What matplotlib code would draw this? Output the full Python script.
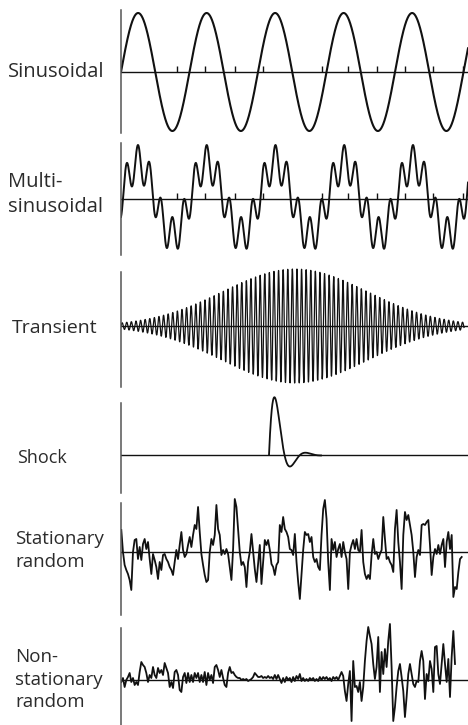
import numpy as np
import matplotlib.pyplot as plt

# ---- values (time and amplitude in pixel-like units) ----
labels = [["Sinusoidal"], ["Multi-", "sinusoidal"], ["Transient"], ["Shock"],
          ["Stationary", "random"], ["Non-", "stationary", "random"]]

sine_amp = 59
sine_period = 68.5

multi_period = 68.75
multi_amps = [36, 18]
multi_orders = [1, 6]
multi_phases = [0.0, -1.45]

tick_pos = [56, 84, 114, 142, 201, 227, 256, 284, 312, 342]

transient_amp = 57
transient_center = 174
transient_width = 72
transient_period = 4.6

shock_start = 148
shock_end = 200
shock_amp = 114
shock_decay = 0.104
shock_half_period = 15.5

stationary = [22, 0, -13, -18, -22, -28, -38, 0, 12, 13,
              -7, 5, -8, 8, 13, 3, 10, -7, -22, -2,
              -8, -15, -27, -10, -18, -3, -2, -7, -10, -15,
              -18, -23, -10, 2, -7, 7, 20, 2, -5, -2,
              7, 15, 5, 17, 27, 23, 45, 20, -2, -13,
              -23, -30, -28, 0, 13, 7, 17, 47, 23, 17,
              -3, 2, -2, 3, -2, -15, -28, 3,
              53, 45, 23, 0, -13, -10, -15, -35, -10, 0,
              18, 0, -17, -30, -12, 7, -32, -10, 12, 7,
              12, 2, -12, -15, -23, -13, -10, 27, 20, 35,
              23, 20, 15, 3, 2, -3, 18, -10, -30, -47,
              -23, 2, 20, 17, 18, 10, 15, -5, -10, -7,
              -15, -18, 17, 43, 52, 33, -10, -38, 13, 2,
              10, -5, 3, 8, -5, 10, 0, -7, -37, 0,
              7, 12, 3, 13, 2, 0, 22, -10, -22, -27,
              -23, -27, -3, 13, -2, 0, -7, -2, 2, 35,
              13, -7, -5, -10, -13, -20, 23, 42, 10, -10,
              -37, 17, 40, 32, 37, 27, 17, 0, -25, -5,
              2, -3, 27, 28, 27, 30, 32, 7, -23, -5,
              3, -2, 7, -2, 7, 13, -15, 10, 20, 3,
              17, -45, -35, -37, -20, -7, -5]
stationary_span = (0.3, 340.7)

nonstationary = [-2, 2, -7, 0, 3, 7, -2, 2, -5, -2,
                 -5, 8, 18, 15, 13, 7, -2, 5, 2, 13,
                 5, 2, 12, 7, 10, 5, 17, 12, 7, -7,
                 -2, -8, 8, 10, 5, -10, -12, 3, 7, -3,
                 7, -2, 5, -2, 7, 2, 7, -2, 5, -2,
                 8, -5, 7, 0, 5, -3, 13, 15, 10, 3,
                 10, 2, -5, -7, 7, 13, 7, 8, 5, 3,
                 2, 2, 0, 1, 0, 1, -1, 0, 1, 3,
                 7, 5, 3, 3, 4, 2, 3, 2, 4, 2,
                 3, 1, 5, 1, 5, 1, -3, 2, -2, 3,
                 0, 2,
                 -2, 3, -1, 4, 1, 6, -1, 2, -1, 1,
                 -1, 2, 0, 2, -1, 1, -1, 3, 0, 3,
                 1, 3, 0, 2, -1, 3, 1, 3, 0, 4,
                 8, 4, -11, -21, -4, 9, -41, 19, -7, -6,
                 -12, -2, -21, -7, 19, 39, 53, 44, 36, 16,
                 1, 13, 43, -12, 28, 6, 31, 13, 39, 56,
                 13, -41, -27, -7, 9, 16, 3, -11, -37, -17,
                 6, 16, 6, -4, -7, -1, -2, 19, 29, 19,
                 -19, 6, -1, 19, 11, -12, 33, 34, 6, -4,
                 16, 36, 16, -2, 21, -17, 23, 49, 16]
nonstationary_span = (0.3, 334.0)

# ---- layout (pixels) ----
W, H = 468, 725
AX_LEFT = 121
HALF = 70
zero_px = [72, 199, 326, 455, 552, 680]
spine_px = [(10, 133), (143, 255), (272, 387), (403, 493), (503, 615), (628, 725)]
label_x = [8, 8, 12, 17, 15, 15]
label_base = [[77], [187, 212], [333], [463], [544, 567], [662, 685, 707]]
label_size = [14.5, 14.5, 14, 13, 13.5, 13.5]

TEXT_COLOR = "#2b2b2b"
LINE_COLOR = "#111111"

fig = plt.figure(figsize=(W / 100, H / 100), dpi=100)

axes = []
for i, z in enumerate(zero_px):
    ax = fig.add_axes([AX_LEFT / W, (H - z - HALF) / H, (W - AX_LEFT) / W, 2 * HALF / H])
    ax.set_xlim(0, W - AX_LEFT)
    ax.set_ylim(-HALF, HALF)
    ax.patch.set_visible(False)
    for side in ["top", "right", "bottom"]:
        ax.spines[side].set_visible(False)
    top, bot = spine_px[i]
    ax.spines["left"].set_bounds(z - bot, z - top)
    ax.spines["left"].set_color("#555555")
    ax.spines["left"].set_linewidth(1.1)
    ax.set_xticks([])
    ax.set_yticks([])
    ax.axhline(0, color=LINE_COLOR, lw=1.0, zorder=1)
    axes.append(ax)

    for line, yb in zip(labels[i], label_base[i]):
        fig.text(label_x[i] / W, 1 - yb / H, line, ha="left", va="baseline",
                 fontsize=label_size[i], family="Open Sans", color=TEXT_COLOR)

t = np.linspace(0, W - AX_LEFT, 3000)

# sinusoidal
axes[0].plot(t, sine_amp * np.sin(2 * np.pi * t / sine_period), color=LINE_COLOR, lw=1.5, zorder=2)
axes[0].vlines(tick_pos, 0, 6, color=LINE_COLOR, lw=1.0)

# multi-sinusoidal
theta = 2 * np.pi * t / multi_period
multi = sum(a * np.sin(k * theta + p) for a, k, p in zip(multi_amps, multi_orders, multi_phases))
axes[1].plot(t, multi, color=LINE_COLOR, lw=1.4, zorder=2)
axes[1].vlines(tick_pos, 0, 6, color=LINE_COLOR, lw=1.0)

# transient
tt = np.linspace(0, W - AX_LEFT - 4, 6000)
env = transient_amp * np.exp(-0.5 * ((tt - transient_center) / transient_width) ** 2)
axes[2].plot(tt, env * np.sin(2 * np.pi * tt / transient_period), color=LINE_COLOR, lw=0.9, zorder=2)

# shock
ts = np.linspace(shock_start, shock_end, 400)
u = ts - shock_start
axes[3].plot(ts, shock_amp * np.exp(-shock_decay * u) * np.sin(np.pi * u / shock_half_period),
             color=LINE_COLOR, lw=1.3, zorder=2)

# stationary random
xs = np.linspace(*stationary_span, len(stationary))
axes[4].plot(xs, stationary, color=LINE_COLOR, lw=1.3, zorder=2)

# non-stationary random
xn = np.linspace(*nonstationary_span, len(nonstationary))
axes[5].plot(xn, nonstationary, color=LINE_COLOR, lw=1.3, zorder=2)

fig.savefig("out.png", dpi=100, facecolor="white")
